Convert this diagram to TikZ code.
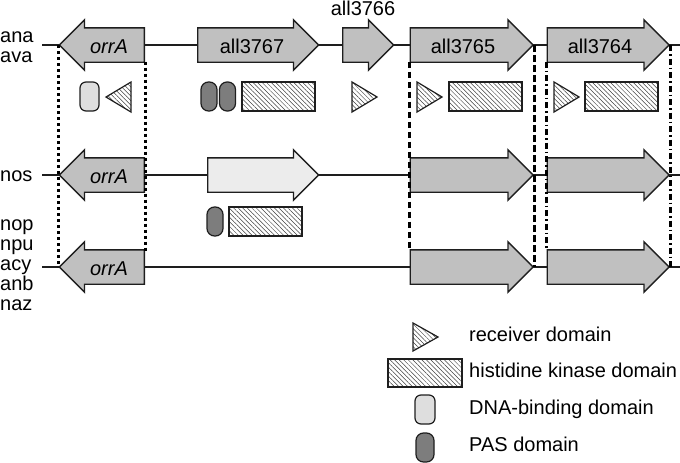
\documentclass[tikz,border=0pt]{standalone}
\usepackage{fontspec}
\setmainfont{Liberation Sans}
\usetikzlibrary{shapes.arrows,patterns.meta,calc}

\definecolor{genegray}{RGB}{192,192,192}
\definecolor{lightgene}{RGB}{236,236,236}
\definecolor{dnagray}{RGB}{222,222,222}
\definecolor{pasgray}{RGB}{125,125,125}
\definecolor{ink}{RGB}{30,30,30}

\begin{document}
\begin{tikzpicture}[
    x=1pt, y=-1pt,
    every node/.style={font=\fontsize{20}{22}\selectfont},
    gene/.style={single arrow, draw=ink, line width=1.4pt, fill=genegray,
                 single arrow head extend=8pt,
                 inner xsep=0pt, inner ysep=16.5pt, anchor=tail},
    lgene/.style={gene, fill=lightgene},
    rev/.style={shape border rotate=180},
    gname/.style={inner sep=0pt, anchor=base},
    sp/.style={inner sep=0pt, anchor=base west},
    chrom/.style={line width=1.1pt, ink},
    hatch/.style={pattern={Lines[angle=-45, distance=3.2pt, line width=0.5pt]},
                  pattern color=black!75},
    hk/.style={rectangle, draw=ink, line width=1.2pt, minimum height=29pt,
               inner sep=0pt, hatch},
    recv/.style={draw=ink, line width=1.2pt, line join=miter, hatch},
    dna/.style={rectangle, rounded corners=6pt, draw=ink, line width=1.2pt,
                fill=dnagray, minimum width=19pt, minimum height=29pt, inner sep=0pt},
    pas/.style={rectangle, rounded corners=7.5pt, draw=ink, line width=1.2pt,
                fill=pasgray, minimum width=16pt, minimum height=29pt, inner sep=0pt},
    orrdot/.style={line width=3pt, dash pattern=on 3pt off 3pt},
    hkdash/.style={line width=3pt, dash pattern=on 6.5pt off 3.5pt},
    rrdash/.style={line width=3pt, dash pattern=on 6pt off 3pt on 1.5pt off 3pt},
  ]
  \useasboundingbox (0,0) rectangle (680,463);

  % species
  \node[sp] (ana) at (0,42.5) {ana};
  \node[sp] (ava) at (0,62.5) {ava};
  \node[sp] (nos) at (0,181.5) {nos};
  \node[sp] (nop) at (0,230.5) {nop};
  \node[sp] (npu) at (0,250.5) {npu};
  \node[sp] (acy) at (0,270.5) {acy};
  \node[sp] (anb) at (0,290.5) {anb};
  \node[sp] (naz) at (0,310.5) {naz};

  % chromosome lines
  \coordinate (r1w) at (42,45);  \coordinate (r1e) at (680,45);
  \coordinate (r2w) at (42,175); \coordinate (r2e) at (680,175);
  \coordinate (r3w) at (42,267); \coordinate (r3e) at (680,267);
  \draw[chrom] (r1w) -- (r1e);
  \draw[chrom] (r2w) -- (r2e);
  \draw[chrom] (r3w) -- (r3e);

  % genes, row 1
  \node[gene, rev, minimum height=85pt] (orrA1) at (145,45) {};
  \node[gene, minimum height=121pt] (g3767) at (197,45) {};
  \node[gene, minimum height=51pt] (g3766) at (342,45) {};
  \node[gene, minimum height=123pt] (g3765) at (409.5,45) {};
  \node[gene, minimum height=122pt] (g3764) at (546.5,45) {};
  \node[gname] (l_orrA1) at (109,53.5) {\itshape orrA};
  \node[gname] (l3767) at (252,53.5) {all3767};
  \node[gname] (l3766) at (363,15) {all3766};
  \node[gname] (l3765) at (463,53.5) {all3765};
  \node[gname] (l3764) at (600,53.5) {all3764};

  % genes, row 2
  \node[gene, rev, minimum height=85pt] (orrA2) at (145,175) {};
  \node[lgene, minimum height=111pt] (nosHK) at (207,175) {};
  \node[gene, minimum height=123pt] (g3765b) at (409.5,175) {};
  \node[gene, minimum height=122pt] (g3764b) at (546.5,175) {};
  \node[gname] (l_orrA2) at (109,183.5) {\itshape orrA};

  % genes, row 3
  \node[gene, rev, minimum height=85pt] (orrA3) at (145,267) {};
  \node[gene, minimum height=123pt] (g3765c) at (409.5,267) {};
  \node[gene, minimum height=122pt] (g3764c) at (546.5,267) {};
  \node[gname] (l_orrA3) at (109,275.5) {\itshape orrA};

  % domains, row 1
  \node[dna] (dna1) at (89.5,96.5) {};
  \draw[recv] (131,82) -- (106,97) -- (131,112) -- cycle;
  \node[pas] (pas1) at (209,96.5) {};
  \node[pas] (pas2) at (227.5,96.5) {};
  \node[hk, minimum width=73pt] (hk3767) at (278.5,96.5) {};
  \draw[recv] (352,82) -- (377,97) -- (352,112) -- cycle;
  \draw[recv] (417,82) -- (442,97) -- (417,112) -- cycle;
  \node[hk, minimum width=73pt] (hk3765) at (485.5,96.5) {};
  \draw[recv] (554,82) -- (579,97) -- (554,112) -- cycle;
  \node[hk, minimum width=73pt] (hk3764) at (621.5,96.5) {};

  % domains, row 2
  \node[pas] (pas3) at (215,221.5) {};
  \node[hk, minimum width=73pt] (hkNos) at (265.5,221.5) {};

  % conserved genes
  \draw[orrdot] (orrA1.tip) -- (orrA3.tip);
  \draw[orrdot] ($(orrA1.tail)+(0,16.5)$) -- ($(orrA3.tail)+(0,-16.5)$);
  \draw[hkdash] ($(g3765.tail)+(0,16.5)$) -- ($(g3765c.tail)+(0,-16.5)$);
  \draw[hkdash] (g3765.tip) -- (g3765c.tip);
  \draw[rrdash] ($(g3764.tail)+(0,16.5)$) -- ($(g3764c.tail)+(0,-16.5)$);
  \draw[rrdash] (g3764.tip) -- (g3764c.tip);

  % legend
  \draw[recv] (413,323) -- (438,337) -- (413,351) -- cycle;
  \node[sp] (k_recv) at (469,341.5) {receiver domain};
  \node[hk, minimum width=74pt, minimum height=28pt] (k_hk) at (425,373) {};
  \node[sp] (k_hkt) at (469,377) {histidine kinase domain};
  \node[dna, minimum width=20pt] (k_dna) at (425,409.5) {};
  \node[sp] (k_dnat) at (469,414.5) {DNA-binding domain};
  \node[pas, minimum width=18pt] (k_pas) at (425,447.5) {};
  \node[sp] (k_past) at (469,451) {PAS domain};
\end{tikzpicture}
\end{document}
